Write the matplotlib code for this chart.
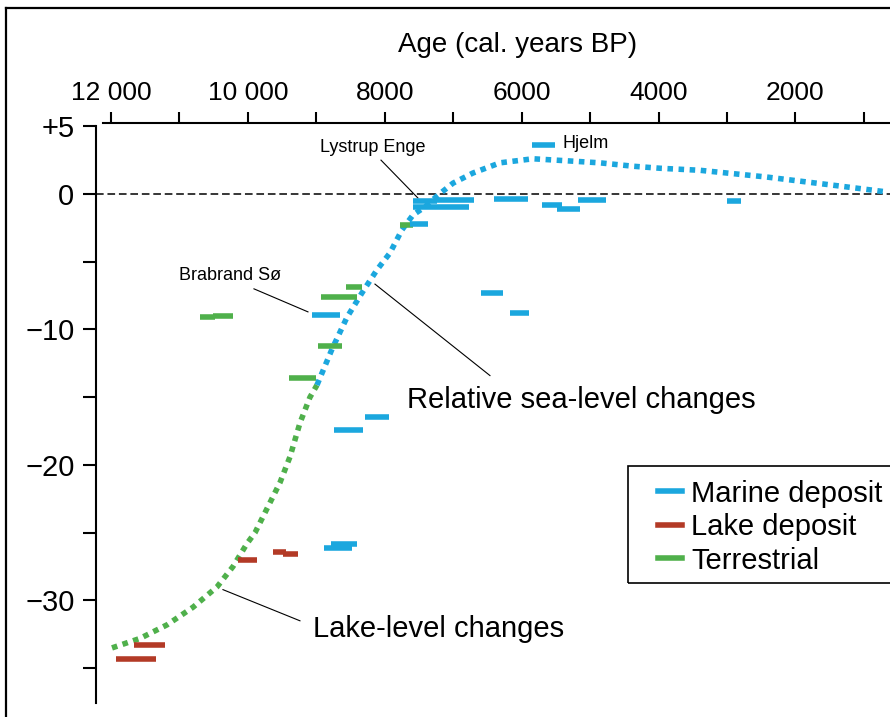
import matplotlib.pyplot as plt
from matplotlib.lines import Line2D
from matplotlib.patches import Rectangle

plt.rcParams['font.family'] = ['Liberation Sans', 'DejaVu Sans']

blue = '#1ba7de'
red = '#b33a26'
green = '#4fb04b'

# dated samples: each is a horizontal bar from start age to end age at a level (m)
marine_start = [7590, 7240, 7590, 6400, 5700, 5480, 5180, 3000, 5850, 7630, 6590, 6170, 9060, 8290, 8740, 8790, 8890]
marine_end = [7240, 6700, 6770, 5910, 5410, 5150, 4770, 2800, 5510, 7370, 6270, 5890, 8650, 7940, 8320, 8410, 8480]
marine_level = [-0.5, -0.45, -0.95, -0.35, -0.8, -1.1, -0.45, -0.5, 3.65, -2.25, -7.3, -8.8, -8.9, -16.45, -17.4, -25.8, -26.15]

lake_start = [10150, 9630, 9490, 11660, 11930]
lake_end = [9870, 9440, 9270, 11210, 11340]
lake_level = [-27.0, -26.4, -26.6, -33.25, -34.35]

terr_start = [10700, 10510, 8570, 8930, 8980, 9400, 7780]
terr_end = [10480, 10220, 8330, 8410, 8620, 9000, 7590]
terr_level = [-9.1, -9.0, -6.85, -7.6, -11.25, -13.6, -2.3]

# lake-level curve (older part) and relative sea-level curve
lake_age = [11985, 11576, 11182, 10802, 10451, 10218, 10013, 9896, 9531, 9385, 9239, 9093, 8990]
lake_curve = [-33.5, -32.8, -31.8, -30.5, -29.0, -27.5, -25.8, -25.0, -21.3, -19.4, -16.9, -15.0, -14.1]
sea_age = [8990, 8771, 8552, 8333, 8114, 7924, 7749, 7588, 7412, 7237, 7003, 6711, 6317,
           5835, 5338, 4856, 4373, 3979, 3395, 2416, 1452, 663]
sea_curve = [-14.1, -11.45, -9.1, -7.3, -5.6, -4.35, -2.65, -1.55, -0.95, -0.15, 0.8, 1.55, 2.3,
             2.6, 2.45, 2.3, 2.05, 1.9, 1.75, 1.25, 0.65, 0.15]

xticks = [12000, 10000, 8000, 6000, 4000, 2000]
xlabels = ['12 000', '10 000', '8000', '6000', '4000', '2000']
yticks = [5, 0, -10, -20, -30]
ylabels = ['+5', '0', '\u221210', '\u221220', '\u221230']

fig = plt.figure(figsize=(8.9, 7.17), dpi=100)
ax = fig.add_axes([96 / 890, 0, 794 / 890, 1 - 123 / 717])

ax.axhline(0, color='black', lw=1.1, ls=(0, (5, 2.5)), zorder=1)

ax.plot(lake_age, lake_curve, color=green, lw=4, ls=(0, (1, 1)), dash_capstyle='butt', zorder=2)
ax.plot(sea_age, sea_curve, color=blue, lw=4, ls=(0, (1, 1)), dash_capstyle='butt', zorder=2)

ax.hlines(terr_level, terr_start, terr_end, color=green, lw=4, zorder=3)
ax.hlines(lake_level, lake_start, lake_end, color=red, lw=4, zorder=3)
ax.hlines(marine_level, marine_start, marine_end, color=blue, lw=4, zorder=3)

# labels with leader lines
ax.text(8175, 3.45, 'Lystrup Enge', fontsize=13, ha='center', va='center')
ax.plot([8055, 7515], [2.5, -0.3], color='black', lw=0.8)
ax.text(5400, 3.7, 'Hjelm', fontsize=13, ha='left', va='center')
ax.text(10260, -6.0, 'Brabrand S\u00f8', fontsize=13, ha='center', va='center')
ax.plot([9911, 9122], [-7.0, -8.7], color='black', lw=0.8)
ax.text(7675, -15.2, 'Relative sea-level changes', fontsize=21, ha='left', va='center')
ax.plot([8143, 6463], [-6.65, -13.4], color='black', lw=0.8)
ax.text(9049, -32.1, 'Lake-level changes', fontsize=21, ha='left', va='center')
ax.plot([10364, 9239], [-29.2, -31.5], color='black', lw=0.8)

ax.set_xlim(12219, 618)
ax.set_ylim(-38.6, 5.24)

ax.xaxis.tick_top()
ax.set_xticks(xticks, xlabels)
ax.set_xticks([11000, 9000, 7000, 5000, 3000, 1000], minor=True)
ax.set_yticks(yticks, ylabels)
ax.set_yticks([-5, -15, -25, -35], minor=True)
ax.tick_params(axis='x', which='both', direction='out', length=8, width=1.5, pad=5, labelsize=19)
ax.tick_params(axis='y', which='both', direction='out', length=9.5, width=1.5, pad=6, labelsize=21)

ax.spines['right'].set_visible(False)
ax.spines['bottom'].set_visible(False)
ax.spines['left'].set_linewidth(1.5)
ax.spines['top'].set_linewidth(1.5)
ax.spines['left'].set_bounds(-37.6, 5)
ax.spines['top'].set_bounds(12117, 618)

fig.text(518 / 890, 1 - 45 / 717, 'Age (cal. years BP)', fontsize=20, ha='center', va='center')

handles = [Line2D([], [], color=blue, lw=4),
           Line2D([], [], color=red, lw=4),
           Line2D([], [], color=green, lw=4)]
fig.legend(handles, ['Marine deposit', 'Lake deposit', 'Terrestrial'], loc='upper left',
           bbox_to_anchor=(643 / 890, 1 - 465 / 717), frameon=False, fontsize=21,
           borderpad=0, labelspacing=0.19, handlelength=0.82, handletextpad=0.33)
fig.add_artist(Rectangle((628 / 890, 1 - 583 / 717), 0.4, 117 / 717, transform=fig.transFigure,
                         fill=False, edgecolor='black', lw=1.2))

# frame round the figure
fig.add_artist(Line2D([6 / 890, 1], [1 - 8 / 717, 1 - 8 / 717], color='black', lw=1.6))
fig.add_artist(Line2D([6 / 890, 6 / 890], [1 - 8 / 717, 0], color='black', lw=1.6))

fig.savefig('out.png', dpi=100)
